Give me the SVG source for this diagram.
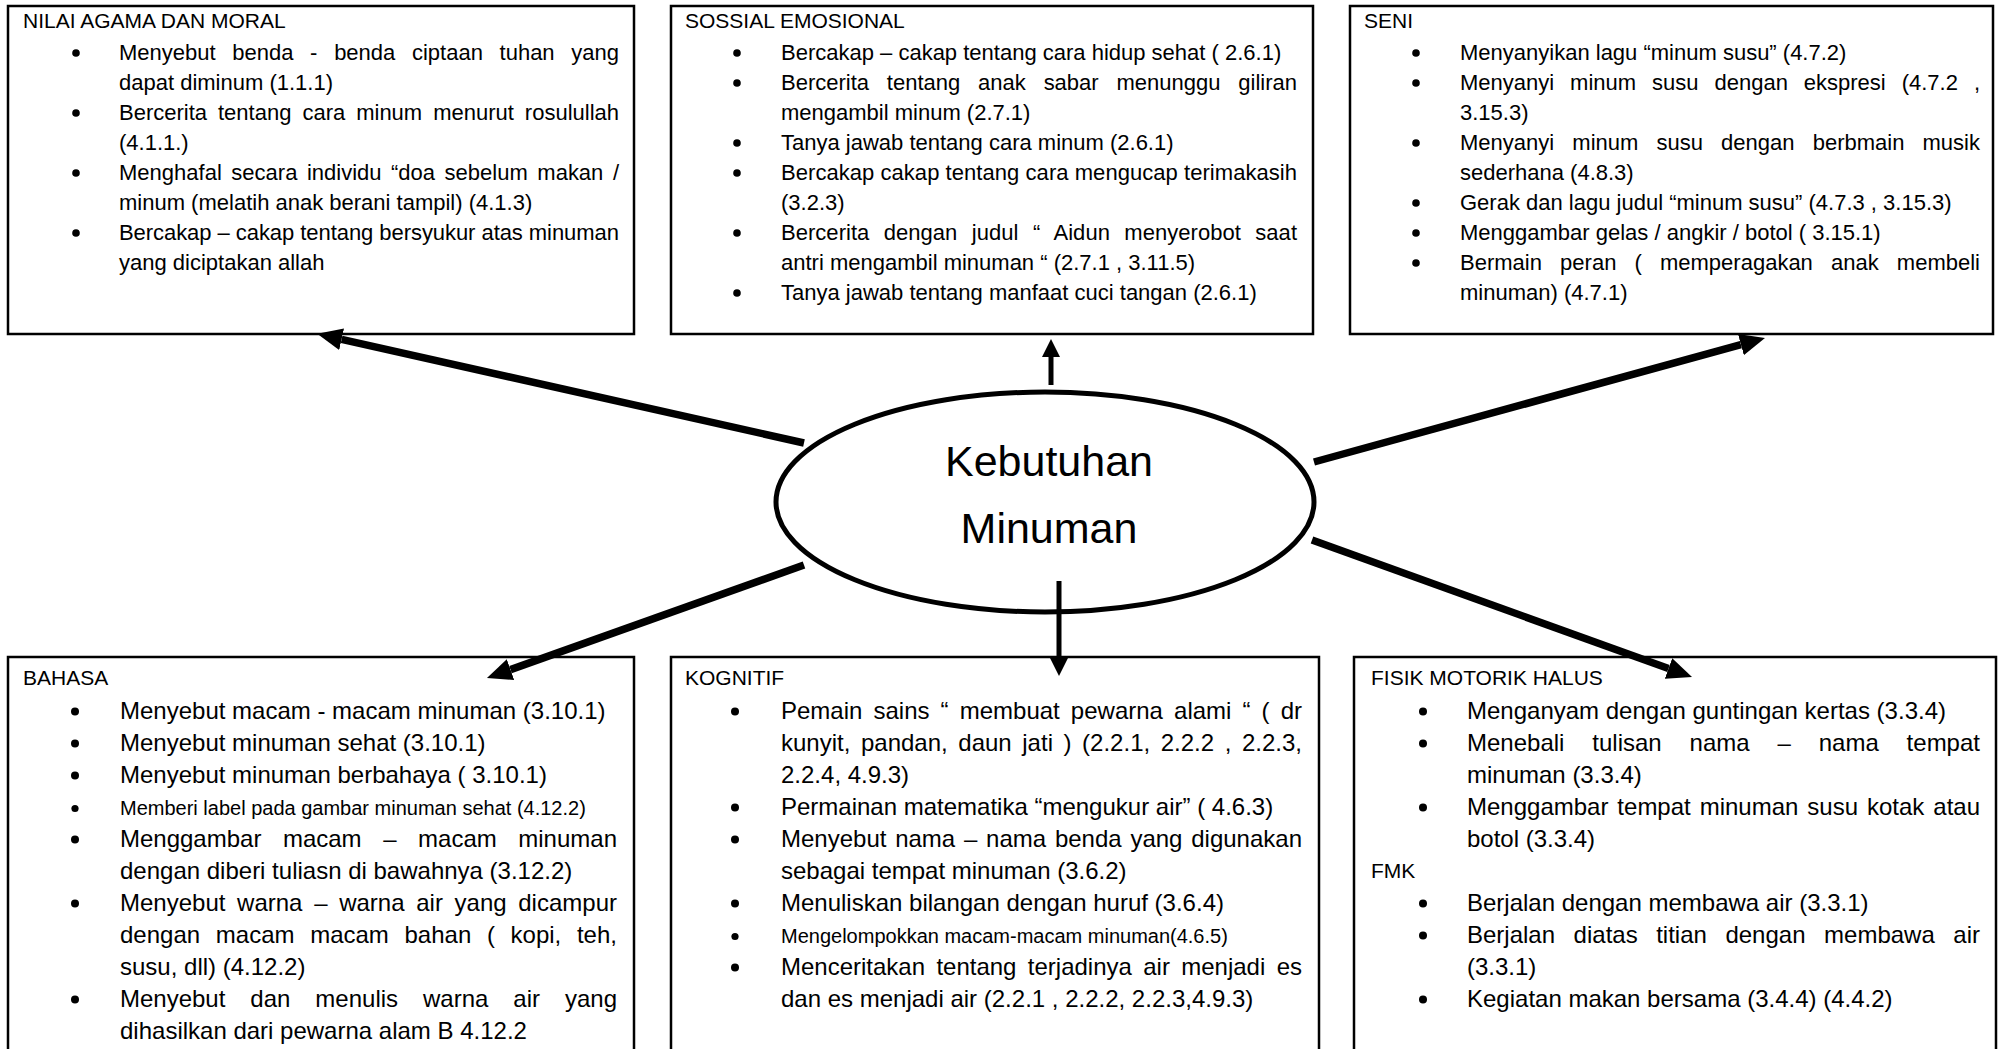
<svg xmlns="http://www.w3.org/2000/svg" width="2005" height="1049" viewBox="0 0 2005 1049">
<style>
.box{fill:#fff;stroke:#000;stroke-width:2.5}
text{font-family:"Liberation Sans",Arial,sans-serif;fill:#000}
.ti{font-size:21px}
.s{font-size:22px}
.b{font-size:24px}
.sm{font-size:20px}
.big{font-size:43px}
.bul{fill:#000}
.conn{stroke:#000;fill:none;stroke-linecap:butt}
.thick{stroke-width:7.5}
.thin{stroke-width:5}
</style>
<defs>
<marker id="ah" markerUnits="userSpaceOnUse" markerWidth="25" markerHeight="22" refX="0" refY="11" orient="auto" viewBox="0 0 25 22">
<path d="M0,0 L25,11 L0,22 Z" fill="#000"/>
</marker>
<marker id="ahs" markerUnits="userSpaceOnUse" markerWidth="18" markerHeight="18" refX="0" refY="9" orient="auto" viewBox="0 0 18 18">
<path d="M0,0 L18,9 L0,18 Z" fill="#000"/>
</marker>
</defs>

<g id="nilai-agama">
<rect class="box" x="8" y="6" width="626" height="328"/>
<text class="ti" x="23" y="28">NILAI AGAMA DAN MORAL</text>
<circle class="bul" cx="76" cy="53" r="3.8"/>
<circle class="bul" cx="76" cy="113" r="3.8"/>
<circle class="bul" cx="76" cy="173" r="3.8"/>
<circle class="bul" cx="76" cy="233" r="3.8"/>
<text class="s" x="119" y="60" word-spacing="10.6" textLength="500" lengthAdjust="spacing">Menyebut benda - benda ciptaan tuhan yang</text>
<text class="s" x="119" y="90">dapat diminum (1.1.1)</text>
<text class="s" x="119" y="120" word-spacing="4.9" textLength="500" lengthAdjust="spacing">Bercerita tentang cara minum menurut rosulullah</text>
<text class="s" x="119" y="150">(4.1.1.)</text>
<text class="s" x="119" y="180" word-spacing="3.4" textLength="500" lengthAdjust="spacing">Menghafal secara individu “doa sebelum makan /</text>
<text class="s" x="119" y="210">minum (melatih anak berani tampil) (4.1.3)</text>
<text class="s" x="119" y="240" textLength="500" lengthAdjust="spacing">Bercakap – cakap tentang bersyukur atas minuman</text>
<text class="s" x="119" y="270">yang diciptakan allah</text>
</g>

<g id="sosial-emosional">
<rect class="box" x="671" y="6" width="642" height="328"/>
<text class="ti" x="685" y="28">SOSSIAL EMOSIONAL</text>
<circle class="bul" cx="737" cy="53" r="3.8"/>
<circle class="bul" cx="737" cy="83" r="3.8"/>
<circle class="bul" cx="737" cy="143" r="3.8"/>
<circle class="bul" cx="737" cy="173" r="3.8"/>
<circle class="bul" cx="737" cy="233" r="3.8"/>
<circle class="bul" cx="737" cy="293" r="3.8"/>
<text class="s" x="781" y="60">Bercakap – cakap tentang cara hidup sehat ( 2.6.1)</text>
<text class="s" x="781" y="90" word-spacing="11.7" textLength="516" lengthAdjust="spacing">Bercerita tentang anak sabar menunggu giliran</text>
<text class="s" x="781" y="120">mengambil minum (2.7.1)</text>
<text class="s" x="781" y="150">Tanya jawab tentang cara minum (2.6.1)</text>
<text class="s" x="781" y="180" textLength="516" lengthAdjust="spacing">Bercakap cakap tentang cara mengucap terimakasih</text>
<text class="s" x="781" y="210">(3.2.3)</text>
<text class="s" x="781" y="240" word-spacing="8.3" textLength="516" lengthAdjust="spacing">Bercerita dengan judul “ Aidun menyerobot saat</text>
<text class="s" x="781" y="270">antri mengambil minuman “ (2.7.1 , 3.11.5)</text>
<text class="s" x="781" y="300">Tanya jawab tentang manfaat cuci tangan (2.6.1)</text>
</g>

<g id="seni">
<rect class="box" x="1350" y="6" width="643" height="328"/>
<text class="ti" x="1364" y="28">SENI</text>
<circle class="bul" cx="1416" cy="53" r="3.8"/>
<circle class="bul" cx="1416" cy="83" r="3.8"/>
<circle class="bul" cx="1416" cy="143" r="3.8"/>
<circle class="bul" cx="1416" cy="203" r="3.8"/>
<circle class="bul" cx="1416" cy="233" r="3.8"/>
<circle class="bul" cx="1416" cy="263" r="3.8"/>
<text class="s" x="1460" y="60">Menyanyikan lagu “minum susu” (4.7.2)</text>
<text class="s" x="1460" y="90" word-spacing="9.8" textLength="520" lengthAdjust="spacing">Menyanyi minum susu dengan ekspresi (4.7.2 ,</text>
<text class="s" x="1460" y="120">3.15.3)</text>
<text class="s" x="1460" y="150" word-spacing="12" textLength="520" lengthAdjust="spacing">Menyanyi minum susu dengan berbmain musik</text>
<text class="s" x="1460" y="180">sederhana (4.8.3)</text>
<text class="s" x="1460" y="210">Gerak dan lagu judul “minum susu” (4.7.3 , 3.15.3)</text>
<text class="s" x="1460" y="240">Menggambar gelas / angkir / botol ( 3.15.1)</text>
<text class="s" x="1460" y="270" word-spacing="12" textLength="520" lengthAdjust="spacing">Bermain peran ( memperagakan anak membeli</text>
<text class="s" x="1460" y="300">minuman) (4.7.1)</text>
</g>

<g id="bahasa">
<rect class="box" x="8" y="657" width="626" height="420"/>
<text class="ti" x="23" y="685">BAHASA</text>
<circle class="bul" cx="75" cy="711.5" r="4"/>
<circle class="bul" cx="75" cy="743.5" r="4"/>
<circle class="bul" cx="75" cy="775.5" r="4"/>
<circle class="bul" cx="75" cy="808.5" r="3.6"/>
<circle class="bul" cx="75" cy="839.5" r="4"/>
<circle class="bul" cx="75" cy="903.5" r="4"/>
<circle class="bul" cx="75" cy="999.5" r="4"/>
<text class="b" x="120" y="719">Menyebut macam - macam minuman (3.10.1)</text>
<text class="b" x="120" y="751">Menyebut minuman sehat (3.10.1)</text>
<text class="b" x="120" y="783">Menyebut minuman berbahaya ( 3.10.1)</text>
<text class="sm" x="120" y="815">Memberi label pada gambar minuman sehat (4.12.2)</text>
<text class="b" x="120" y="847" word-spacing="14.9" textLength="497" lengthAdjust="spacing">Menggambar macam – macam minuman</text>
<text class="b" x="120" y="879">dengan diberi tuliasn di bawahnya (3.12.2)</text>
<text class="b" x="120" y="911" word-spacing="5" textLength="497" lengthAdjust="spacing">Menyebut warna – warna air yang dicampur</text>
<text class="b" x="120" y="943" word-spacing="9" textLength="497" lengthAdjust="spacing">dengan macam macam bahan ( kopi, teh,</text>
<text class="b" x="120" y="975">susu, dll) (4.12.2)</text>
<text class="b" x="120" y="1007" word-spacing="18.3" textLength="497" lengthAdjust="spacing">Menyebut dan menulis warna air yang</text>
<text class="b" x="120" y="1039">dihasilkan dari pewarna alam B 4.12.2</text>
</g>

<g id="kognitif">
<rect class="box" x="671" y="657" width="648" height="420"/>
<text class="ti" x="685" y="685">KOGNITIF</text>
<circle class="bul" cx="735" cy="711.5" r="4"/>
<circle class="bul" cx="735" cy="807.5" r="4"/>
<circle class="bul" cx="735" cy="839.5" r="4"/>
<circle class="bul" cx="735" cy="903.5" r="4"/>
<circle class="bul" cx="735" cy="936.5" r="3.6"/>
<circle class="bul" cx="735" cy="967.5" r="4"/>
<text class="b" x="781" y="719" word-spacing="4.4" textLength="521" lengthAdjust="spacing">Pemain sains “ membuat pewarna alami “ ( dr</text>
<text class="b" x="781" y="751" word-spacing="3.9" textLength="521" lengthAdjust="spacing">kunyit, pandan, daun jati ) (2.2.1, 2.2.2 , 2.2.3,</text>
<text class="b" x="781" y="783">2.2.4, 4.9.3)</text>
<text class="b" x="781" y="815">Permainan matematika “mengukur air” ( 4.6.3)</text>
<text class="b" x="781" y="847" word-spacing="2.1" textLength="521" lengthAdjust="spacing">Menyebut nama – nama benda yang digunakan</text>
<text class="b" x="781" y="879">sebagai tempat minuman (3.6.2)</text>
<text class="b" x="781" y="911">Menuliskan bilangan dengan huruf (3.6.4)</text>
<text class="sm" x="781" y="943">Mengelompokkan macam-macam minuman(4.6.5)</text>
<text class="b" x="781" y="975" word-spacing="4.7" textLength="521" lengthAdjust="spacing">Menceritakan tentang terjadinya air menjadi es</text>
<text class="b" x="781" y="1007">dan es menjadi air (2.2.1 , 2.2.2, 2.2.3,4.9.3)</text>
</g>

<g id="fisik-motorik">
<rect class="box" x="1354" y="657" width="642" height="420"/>
<text class="ti" x="1371" y="685">FISIK MOTORIK HALUS</text>
<circle class="bul" cx="1423" cy="711.5" r="4"/>
<circle class="bul" cx="1423" cy="743.5" r="4"/>
<circle class="bul" cx="1423" cy="807.5" r="4"/>
<circle class="bul" cx="1423" cy="903.5" r="4"/>
<circle class="bul" cx="1423" cy="935.5" r="4"/>
<circle class="bul" cx="1423" cy="999.5" r="4"/>
<text class="b" x="1467" y="719">Menganyam dengan guntingan kertas (3.3.4)</text>
<text class="b" x="1467" y="751" word-spacing="21.2" textLength="513" lengthAdjust="spacing">Menebali tulisan nama – nama tempat</text>
<text class="b" x="1467" y="783">minuman (3.3.4)</text>
<text class="b" x="1467" y="815" word-spacing="2.3" textLength="513" lengthAdjust="spacing">Menggambar tempat minuman susu kotak atau</text>
<text class="b" x="1467" y="847">botol (3.3.4)</text>
<text class="ti" x="1371" y="878">FMK</text>
<text class="b" x="1467" y="911">Berjalan dengan membawa air (3.3.1)</text>
<text class="b" x="1467" y="943" word-spacing="11.9" textLength="513" lengthAdjust="spacing">Berjalan diatas titian dengan membawa air</text>
<text class="b" x="1467" y="975">(3.3.1)</text>
<text class="b" x="1467" y="1007">Kegiatan makan bersama (3.4.4) (4.4.2)</text>
</g>

<g id="kebutuhan-minuman">
<ellipse cx="1045" cy="502" rx="269" ry="110" fill="#fff" stroke="#000" stroke-width="5"/>
<text class="big" x="1049" y="476" text-anchor="middle">Kebutuhan</text>
<text class="big" x="1049" y="543" text-anchor="middle">Minuman</text>
</g>

<g id="connectors">
<line class="conn thick" x1="804" y1="443" x2="341.6" y2="339.3" marker-end="url(#ah)"/>
<line class="conn thin" x1="1051" y1="385" x2="1051" y2="357" marker-end="url(#ahs)"/>
<line class="conn thick" x1="1314" y1="462" x2="1740.9" y2="344.6" marker-end="url(#ah)"/>
<line class="conn thick" x1="804" y1="565" x2="510.5" y2="669.6" marker-end="url(#ah)"/>
<line class="conn thin" x1="1059" y1="581" x2="1059" y2="658" marker-end="url(#ahs)"/>
<line class="conn thick" x1="1312" y1="540" x2="1668.5" y2="668.5" marker-end="url(#ah)"/>
</g>
</svg>
